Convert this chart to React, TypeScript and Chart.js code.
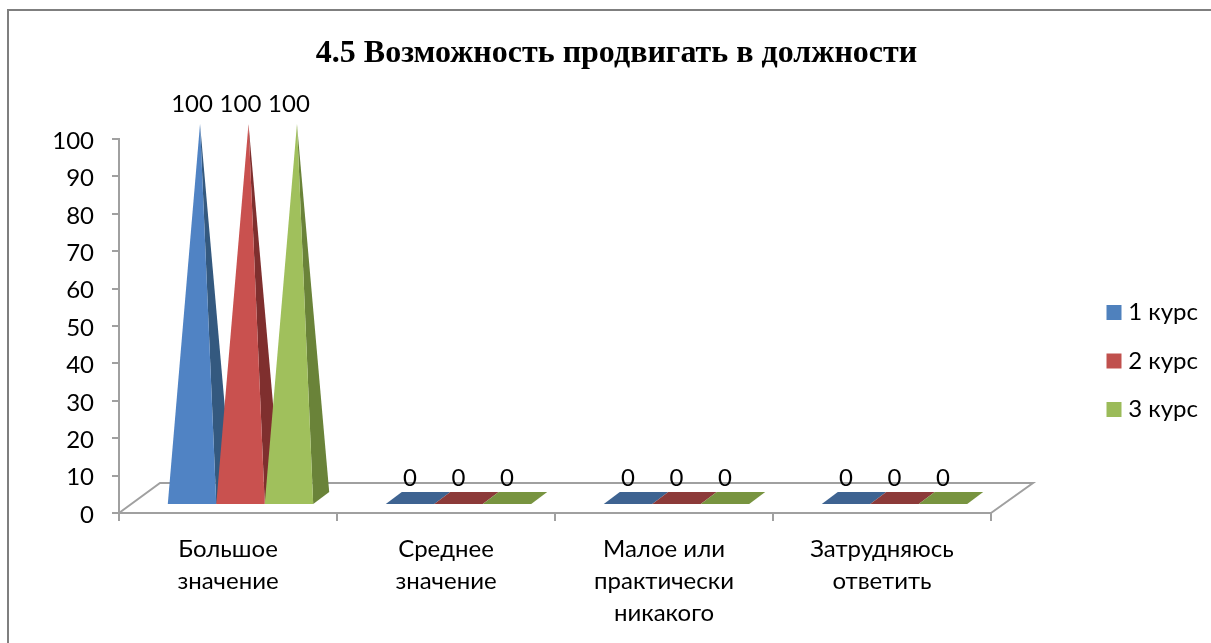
import React, { useEffect, useRef } from "react";
import { Chart, registerables } from "chart.js";

Chart.register(...registerables);

const categories = [
  ["Большое", "значение"],
  ["Среднее", "значение"],
  ["Малое или", "практически", "никакого"],
  ["Затрудняюсь", "ответить"],
];
const course1 = [100, 0, 0, 0];
const course2 = [100, 0, 0, 0];
const course3 = [100, 0, 0, 0];
const seriesNames = ["1 курс", "2 курс", "3 курс"];
const chartTitle = "4.5 Возможность продвигать в должности";

const legendColors = ["#4f81bd", "#c0504d", "#9bbb59"];
const faceColors = ["#5083c4", "#c9514f", "#a0c05c"];
const sideColors = ["#34597f", "#7f2f2e", "#6a8339"];
const flatColors = ["#3e6391", "#8c3a39", "#789440"];

const FONT = "Lato, Carlito, 'Open Sans', sans-serif";
const AXIS = "#a0a0a0";

const pyramidPlugin = {
  id: "pyramids",
  afterLayout(chart: any) {
    const l = chart.legend;
    l.left = 1082;
    l.right = 1198;
    l.top = 276;
    l.bottom = 643;
    chart.titleBlock.left = 0;
    chart.titleBlock.right = 1233;
    chart.scales.y.getLabelItems(chart.chartArea).forEach((it: any) => {
      it.options.translation[1] += 2;
    });
  },
  beforeDatasetDraw() {
    return false;
  },
  beforeDatasetsDraw(chart: any) {
    const { ctx, chartArea: a } = chart;
    ctx.save();
    ctx.strokeStyle = "#7f7f7f";
    ctx.lineWidth = 2;
    ctx.strokeRect(8, 10, 1300, 1300);
    ctx.strokeStyle = AXIS;
    ctx.lineWidth = 2;
    ctx.beginPath();
    ctx.moveTo(a.left, a.bottom);
    ctx.lineTo(a.left + 41, a.bottom - 30);
    ctx.lineTo(a.right + 42, a.bottom - 30);
    ctx.lineTo(a.right, a.bottom);
    ctx.stroke();
    ctx.restore();
  },
  afterDatasetsDraw(chart: any) {
    const { ctx } = chart;
    const yScale = chart.scales.y;
    const zero = yScale.getPixelForValue(0);
    const count = chart.data.labels.length;
    ctx.save();
    for (let c = 0; c < count; c++) {
      chart.data.datasets.forEach((ds: any, d: number) => {
        const bar = chart.getDatasetMeta(d).data[c];
        const props = bar.getProps(["x", "y", "width"], true);
        const xl = props.x + 12.5 - props.width / 2;
        const xr = xl + props.width;
        const front = zero - 9;
        const back = zero - 21;
        if (ds.data[c] === 0) {
          ctx.fillStyle = flatColors[d];
          ctx.beginPath();
          ctx.moveTo(xl, front);
          ctx.lineTo(xr, front);
          ctx.lineTo(xr + 16, back);
          ctx.lineTo(xl + 16, back);
          ctx.closePath();
          ctx.fill();
        } else {
          const ax = (xl + xr) / 2 + 8;
          const ay = props.y - 15;
          ctx.fillStyle = sideColors[d];
          ctx.beginPath();
          ctx.moveTo(xr, front);
          ctx.lineTo(xr + 16, back);
          ctx.lineTo(ax, ay);
          ctx.closePath();
          ctx.fill();
          ctx.fillStyle = faceColors[d];
          ctx.beginPath();
          ctx.moveTo(xl, front);
          ctx.lineTo(xr, front);
          ctx.lineTo(ax, ay);
          ctx.closePath();
          ctx.fill();
        }
      });
    }
    ctx.fillStyle = "#000";
    ctx.font = `24px ${FONT}`;
    ctx.textAlign = "center";
    ctx.textBaseline = "middle";
    chart.data.datasets.forEach((ds: any, d: number) => {
      chart.getDatasetMeta(d).data.forEach((bar: any, i: number) => {
        const props = bar.getProps(["x", "y"], true);
        ctx.fillText(String(ds.data[i]), props.x + 12.5, props.y - 35);
      });
    });
    ctx.restore();
  },
};

export default function App() {
  const ref = useRef<HTMLCanvasElement>(null);
  useEffect(() => {
    const chart = new Chart(ref.current as HTMLCanvasElement, {
      type: "bar",
      data: {
        labels: categories as any,
        datasets: [course1, course2, course3].map((data, i) => ({
          label: seriesNames[i],
          data,
          backgroundColor: legendColors[i],
          borderWidth: 0,
          categoryPercentage: 0.667,
          barPercentage: 1,
        })),
      },
      options: {
        animation: false,
        responsive: false,
        devicePixelRatio: 1,
        layout: { padding: { left: 0, right: 220, top: 0, bottom: 0 } },
        plugins: {
          title: {
            display: true,
            text: chartTitle,
            color: "#000",
            font: { family: "'Liberation Serif', serif", size: 32, weight: "bold", lineHeight: 1 },
            padding: { top: 38, bottom: 69 },
          },
          legend: {
            position: "chartArea",
            align: "start",
            labels: {
              boxWidth: 15,
              boxHeight: 15,
              padding: 24.5,
              textAlign: "right",
              color: "#000",
              font: { family: FONT, size: 24 },
            },
          },
          tooltip: { enabled: false },
        },
        scales: {
          x: {
            afterFit: (s: any) => {
              s.height = 130;
            },
            grid: { drawOnChartArea: false, color: AXIS, lineWidth: 2, tickLength: 8 },
            border: { color: AXIS, width: 2 },
            ticks: {
              color: "#000",
              maxRotation: 0,
              autoSkip: false,
              padding: 12,
              font: { family: FONT, size: 24, lineHeight: 32 / 24 },
            },
          },
          y: {
            min: 0,
            max: 100,
            afterFit: (s: any) => {
              s.width = 119;
            },
            grid: { drawOnChartArea: false, color: AXIS, lineWidth: 2, tickLength: 7 },
            border: { color: AXIS, width: 2 },
            ticks: {
              stepSize: 10,
              color: "#000",
              padding: 18,
              font: { family: FONT, size: 24 },
            },
          },
        },
      } as any,
      plugins: [pyramidPlugin as any],
    });
    return () => chart.destroy();
  }, []);
  return (
    <div style={{ position: "absolute", left: 0, top: 0, width: 1211, height: 643, background: "#fff" }}>
      <canvas ref={ref} width={1211} height={643} style={{ display: "block" }} />
    </div>
  );
}
